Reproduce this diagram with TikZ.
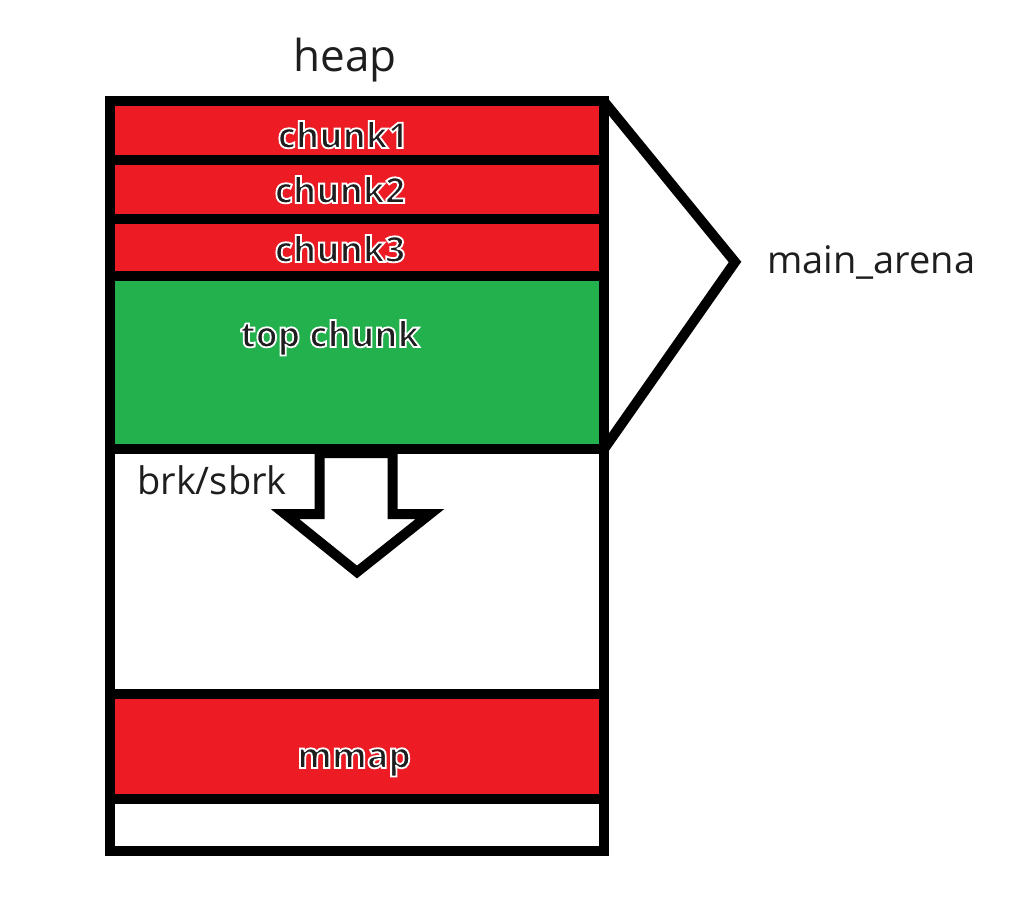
\documentclass[tikz,border=0pt]{standalone}
\usepackage{fontspec}
\setmainfont{Open Sans}
\definecolor{chunkred}{HTML}{ED1C24}
\definecolor{topgreen}{HTML}{22B14C}
\definecolor{ink}{HTML}{1E1E1E}
% white rim round a label, drawn by the text's own stroke
\newcommand\rimmed[1]{\bfseries\special{pdf:literal direct 1 1 1 RG 1.8 w 2 Tr}#1\special{pdf:literal direct 0 Tr}}
\begin{document}
\begin{tikzpicture}[x=1pt, y=-1pt,
        band/.style={rectangle, draw=black, line width=10pt, minimum width=494pt, inner sep=0pt, outer sep=0pt},
        used band/.style={band, fill=chunkred},
        top band/.style={band, fill=topgreen},
        free band/.style={band, fill=white},
        tag/.style={font=\fontsize{38}{40}\selectfont, text=ink, inner sep=0pt, anchor=base},
        rim tag/.style={tag, font=\fontsize{35.5}{38}\selectfont},
        thick line/.style={draw=black, line width=10pt, line join=miter},
    ]
	\useasboundingbox (0,0) rectangle (1024,915);
	\node[used band, minimum height=58.5pt] (c1) at (357,130.75) {};
	\node[used band, minimum height=59pt] (c2) at (357,189.5) {};
	\node[used band, minimum height=56.5pt] (c3) at (357,247.25) {};
	\node[top band, minimum height=173.5pt] (topc) at (357,362.25) {};
	\node[free band, minimum height=244.5pt] (gap) at (357,571.25) {};
	\node[used band, minimum height=105.5pt] (mm) at (357,746.25) {};
	\node[free band, minimum height=51.5pt] (tail) at (357,824.75) {};
	% arena bracket
	\coordinate (apex) at (735,262);
	\draw[thick line] (c1.north east) -- (apex) -- (topc.south east);
	% brk/sbrk arrow
	\draw[thick line, fill=white] (319.5,453) -- (319.5,514) -- (285,514) -- (357,572)
		-- (430,514) -- (392.5,514) -- (392.5,453) -- cycle;
	\node[tag, font=\fontsize{44}{46}\selectfont] (heaplbl) at (345,72) {heap};
	\node[rim tag] (c1lbl) at (343,148) {\rimmed{chunk1}};
	\node[rim tag] (c2lbl) at (340,203) {\rimmed{chunk2}};
	\node[rim tag] (c3lbl) at (340,262) {\rimmed{chunk3}};
	\node[rim tag] (toplbl) at (330,347) {\rimmed{top chunk}};
	\node[tag, anchor=base west] (brklbl) at (137,494) {brk/sbrk};
	\node[rim tag] (mmlbl) at (354,768) {\rimmed{mmap}};
	\node[tag, anchor=base west] (arenalbl) at (767,273) {main\_arena};
\end{tikzpicture}
\end{document}
